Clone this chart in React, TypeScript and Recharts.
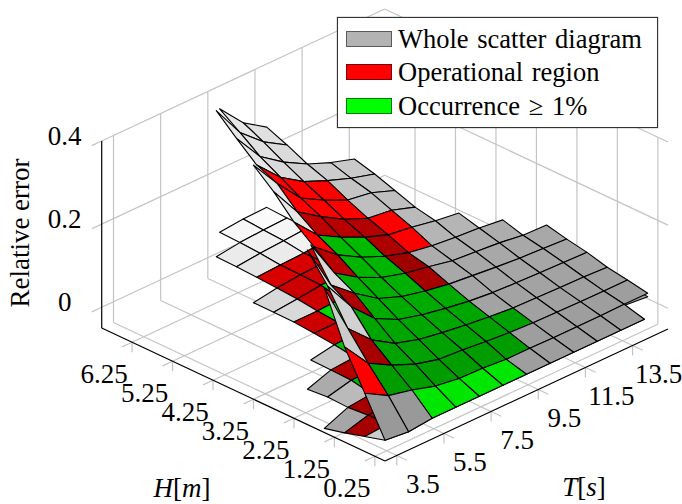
import { ScatterChart, Scatter, XAxis, YAxis, Legend } from 'recharts';

// grid of the two error surfaces: vertices at T = 3..15, H = 0..7 (step 0.5)
const tGrid = [3, 4, 5, 6, 7, 8, 9, 10, 11, 12, 13, 14, 15];
const hGrid = [0, 0.5, 1, 1.5, 2, 2.5, 3, 3.5, 4, 4.5, 5, 5.5, 6, 6.5, 7];

const _ = null;
const upperZ = [
  [0, -0.006, 0, 0, 0, 0, 0, 0, 0, 0, 0, 0, _],
  [0.09, 0.058, 0.045, 0.028, 0.02, 0.018, 0.013, 0.013, 0.012, 0.012, 0.012, 0.013, 0.013],
  [0.179, 0.113, 0.082, 0.058, 0.043, 0.039, 0.033, 0.028, 0.025, 0.024, 0.023, 0.022, 0.022],
  [0.298, 0.174, 0.12, 0.085, 0.068, 0.058, 0.05, 0.043, 0.038, 0.036, 0.034, 0.033, 0.03],
  [_, 0.253, 0.177, 0.122, 0.093, 0.078, 0.067, 0.058, 0.052, 0.049, 0.047, 0.045, 0.043],
  [_, 0.317, 0.206, 0.16, 0.121, 0.099, 0.086, 0.076, 0.07, 0.064, 0.059, 0.056, 0.052],
  [_, _, 0.28, 0.186, 0.149, 0.122, 0.106, 0.095, 0.083, 0.078, 0.073, 0.065, 0.063],
  [_, _, _, 0.226, 0.18, 0.148, 0.124, 0.106, 0.096, 0.09, 0.086, 0.079, _],
  [_, _, _, 0.263, 0.205, 0.173, 0.147, 0.126, 0.118, 0.107, 0.099, _, _],
  [_, _, _, 0.313, 0.238, 0.2, 0.167, 0.143, 0.136, 0.117, _, _, _],
  [_, _, _, 0.354, 0.284, 0.222, 0.19, 0.164, 0.155, 0.134, _, _, _],
  [_, _, _, _, 0.305, 0.249, 0.212, 0.188, 0.167, 0.151, _, _, _],
  [_, _, _, _, 0.346, 0.276, 0.236, 0.205, 0.182, 0.164, _, _, _],
  [_, _, _, _, 0.39, 0.311, 0.262, 0.228, _, _, _, _, _],
  [_, _, _, _, _, 0.345, 0.285, 0.248, _, _, _, _, _],
];
const lowerZ = [
  [0, -0.006, 0, 0, 0, 0, 0, 0, 0, 0, 0, 0, _],
  [-0.014, -0.01, -0.004, 0, 0, 0, 0, 0.002, 0.004, 0.005, 0.006, 0.01, 0.005],
  [-0.028, -0.012, -0.006, 0, 0, 0.002, 0.004, 0.006, 0.008, 0.008, 0.01, 0.01, 0.01],
  [-0.04, -0.016, -0.01, 0, 0.004, 0.006, 0.008, 0.01, 0.012, 0.012, 0.014, 0.014, 0.014],
  [_, -0.014, 0, 0.002, 0.008, 0.01, 0.012, 0.014, 0.016, 0.016, 0.018, 0.018, 0.018],
  [_, -0.018, 0.002, 0.006, 0.012, 0.014, 0.016, 0.018, 0.02, 0.02, 0.022, 0.022, 0.022],
  [_, _, 0.003, 0.013, 0.015, 0.018, 0.02, 0.022, 0.024, 0.025, 0.026, 0.026, 0.026],
  [_, _, _, 0.018, 0.018, 0.022, 0.024, 0.026, 0.028, 0.03, 0.03, 0.03, _],
  [_, _, _, 0.022, 0.022, 0.025, 0.03, 0.032, 0.034, 0.036, 0.036, _, _],
  [_, _, _, 0.023, 0.028, 0.035, 0.036, 0.038, 0.04, 0.04, _, _, _],
  [_, _, _, 0.023, 0.032, 0.037, 0.04, 0.042, 0.044, 0.045, _, _, _],
  [_, _, _, _, 0.035, 0.038, 0.04, 0.045, 0.047, 0.048, _, _, _],
  [_, _, _, _, 0.037, 0.043, 0.047, 0.051, 0.05, 0.05, _, _, _],
  [_, _, _, _, 0.0385, 0.046, 0.05, 0.052, _, _, _, _, _],
  [_, _, _, _, _, 0.048, 0.0535, 0.055, _, _, _, _, _],
];

// one token per cell (T = 3..14): g gray, r red, n green + brightness in percent
const upperCells = [
  'g60 g60 n90 n90 n90 n90 g62 g62 g62 g62 g62 -',
  'r100 n61 n61 n61 n61 n61 n61 g62 g62 g62 g62 g62',
  'g80 r65 n63 n63 n63 n63 n63 n63 g63 g63 g63 g63',
  '- g82 n65 n65 n65 n65 n65 g64 g64 g64 g64 g64',
  '- g85 r68 n67 n67 n67 n67 g65 g65 g65 g65 g65',
  '- - g85 n69 n69 n69 r65 g66 g66 g66 g66 g66',
  '- - - r72 n71 n71 r62 g68 g68 g68 g68 -',
  '- - - r100 n73 n73 r68 r100 g71 g71 - -',
  '- - - g90 r75 r72 r70 r100 g73 - - -',
  '- - - g90 r100 r100 r100 g75 g75 - - -',
  '- - - - r100 r100 r100 g77 g77 - - -',
  '- - - - g90 g85 g82 g80 g79 - - -',
  '- - - - g90 g88 g86 - - - - -',
  '- - - - - g90 g88 - - - - -',
];
const lowerCells = [
  'g80 g70 n90 n90 n90 n90 g62 g62 g62 g62 g62 -',
  'r65 r65 n60 n60 n60 n60 n60 g62 g62 g62 g62 g62',
  'g65 r65 n65 n62 n62 n62 n62 n62 g63 g63 g63 g63',
  '- g73 n70 n62 n62 n62 n62 g64 g64 g64 g64 g64',
  '- g67 r70 n64 n64 n64 n64 g65 g65 g65 g65 g65',
  '- - g78 n75 n65 n65 r65 g67 g67 g67 g67 g67',
  '- - - r80 n80 n68 r62 g69 g69 g69 g69 -',
  '- - - r80 n85 n70 r68 r100 g71 g71 - -',
  '- - - g85 r80 n85 r70 r100 g72 - - -',
  '- - - g85 r80 r80 r80 g74 g74 - - -',
  '- - - - r85 r85 r85 g76 g76 - - -',
  '- - - - g90 g92 g95 g95 g95 - - -',
  '- - - - g92 g94 g96 - - - - -',
  '- - - - - g97 g98 - - - - -',
];

const tTicks = [3.5, 5.5, 7.5, 9.5, 11.5, 13.5];
const hTicks = [0.25, 1.25, 2.25, 3.25, 4.25, 5.25, 6.25];
const zTicks = [0, 0.2, 0.4];
const legendNames = ['Whole scatter diagram', 'Operational region', 'Occurrence \u2265 1%'];
const legendFills = ['#b3b3b3', '#ff0000', '#00ff00'];
const legendEdges = ['#5a5a5a', '#7a0000', '#007a00'];

const T_MIN = 3, T_MAX = 15, H_MIN = 0, H_MAX = 7, Z_MIN = -0.05, Z_MAX = 0.4;
const FONT = '"Liberation Serif", serif';

// 3d view of the axis box, the hidden chart axes then place the result
const project = (T: number, H: number, z: number) => ({
  u: (T - T_MIN) * 23.58 - H * 40.47,
  v: (T - T_MIN) * 11 + H * 19 + (z - Z_MIN) * 415.6,
});

const shadeFill = (token: string) => {
  const f = Number(token.slice(1)) / 100;
  const c = Math.round(255 * f);
  if (token[0] === 'r') return `rgb(${c},0,0)`;
  if (token[0] === 'n') return `rgb(0,${c},0)`;
  return `rgb(${c},${c},${c})`;
};

function buildSurface(zs: (number | null)[][], cells: string[]) {
  const points: { u: number; v: number }[] = [];
  const fills: string[] = [];
  // back to front, the last cell drawn is the one nearest to the viewer
  for (let r = cells.length - 1; r >= 0; r--) {
    const tokens = cells[r].split(' ');
    for (let c = tokens.length - 1; c >= 0; c--) {
      if (tokens[c] === '-') continue;
      const corners = [
        [c, r],
        [c + 1, r],
        [c + 1, r + 1],
        [c, r + 1],
      ];
      corners.forEach(([i, j]) => points.push(project(tGrid[i], hGrid[j], zs[j][i] as number)));
      fills.push(shadeFill(tokens[c]));
    }
  }
  return { points, fills };
}

const lower = buildSurface(lowerZ, lowerCells);
const upper = buildSurface(upperZ, upperCells);

const seg = (a: number[], b: number[]) => [project(a[0], a[1], a[2]), project(b[0], b[1], b[2])];

const gridSegments = [
  ...tTicks.flatMap((t) => [
    ...seg([t, H_MIN, Z_MIN], [t, H_MAX, Z_MIN]),
    ...seg([t, H_MAX, Z_MIN], [t, H_MAX, Z_MAX]),
    ...seg([t, H_MIN, Z_MIN], [t, -0.25, Z_MIN]),
    ...seg([t, H_MIN, Z_MIN], [t, H_MIN, Z_MIN - 0.024]),
  ]),
  ...hTicks.flatMap((h) => [
    ...seg([T_MIN, h, Z_MIN], [T_MAX, h, Z_MIN]),
    ...seg([T_MAX, h, Z_MIN], [T_MAX, h, Z_MAX]),
    ...seg([T_MIN, h, Z_MIN], [T_MIN - 0.42, h, Z_MIN]),
    ...seg([T_MIN, h, Z_MIN], [T_MIN, h, Z_MIN - 0.024]),
  ]),
  ...zTicks.flatMap((z) => [
    ...seg([T_MIN, H_MAX, z], [T_MAX, H_MAX, z]),
    ...seg([T_MAX, H_MAX, z], [T_MAX, H_MIN, z]),
    ...seg([T_MIN, H_MAX, z], [T_MIN - 0.42, H_MAX, z]),
  ]),
];

const axisSegments = [
  ...seg([T_MIN, H_MAX, Z_MAX], [T_MIN, H_MAX, Z_MIN]),
  ...seg([T_MIN, H_MAX, Z_MIN], [T_MIN, H_MIN, Z_MIN]),
  ...seg([T_MIN, H_MIN, Z_MIN], [T_MAX, H_MIN, Z_MIN]),
];

const tLabels = tTicks.map((t) => ({ ...project(t, H_MIN, Z_MIN), text: String(t), dx: 26, dy: 28 }));
const hLabels = hTicks.map((h) => ({ ...project(T_MIN, h, Z_MIN), text: String(h), dx: -28, dy: 32 }));
const zLabels = zTicks.map((z) => ({ ...project(T_MIN, H_MAX, z), text: String(z), dx: -37, dy: -5 }));

const NoDot = () => null;

const drawSegments = (stroke: string, width: number) => (props: any) => {
  const pts = props.points;
  const lines = [];
  for (let i = 0; i + 1 < pts.length; i += 2) {
    lines.push(
      <line key={i} x1={pts[i].x} y1={pts[i].y} x2={pts[i + 1].x} y2={pts[i + 1].y} stroke={stroke} strokeWidth={width} />
    );
  }
  return <g>{lines}</g>;
};

const drawQuads = (fills: string[]) => (props: any) => {
  const pts = props.points;
  return (
    <g>
      {fills.map((fill, i) => (
        <polygon
          key={i}
          points={pts.slice(i * 4, i * 4 + 4).map((p: any) => `${p.x},${p.y}`).join(' ')}
          fill={fill}
          stroke="#000"
          strokeWidth={1.1}
          strokeLinejoin="round"
        />
      ))}
    </g>
  );
};

const TickText = (props: any) => {
  const { cx, cy, payload } = props;
  return (
    <text x={cx + payload.dx} y={cy + payload.dy} textAnchor="middle" dominantBaseline="central" fontFamily={FONT} fontSize={27} fill="#000">
      {payload.text}
    </text>
  );
};

const LegendBox = () => (
  <div style={{ background: '#fff', border: '1px solid #333', width: 319, height: 109, position: 'relative', boxShadow: '0 0 1px #555' }}>
    {legendNames.map((name, i) => (
      <div key={name} style={{ position: 'absolute', left: 8, top: 7 + i * 33.3, height: 28, display: 'flex', alignItems: 'center' }}>
        <span style={{ display: 'inline-block', width: 44, height: 14, background: legendFills[i], border: `1px solid ${legendEdges[i]}`, marginRight: 6 }} />
        <span style={{ fontFamily: FONT, fontSize: 26.5, color: '#000', wordSpacing: 2, whiteSpace: 'nowrap', lineHeight: '28px' }}>{name}</span>
      </div>
    ))}
  </div>
);

export default function App() {
  return (
    <div style={{ position: 'absolute', left: 0, top: 0, width: 682, height: 504 }}>
      <ScatterChart width={682} height={504} margin={{ top: 0, right: 0, bottom: 0, left: 0 }}>
        <XAxis type="number" dataKey="u" domain={[-385, 297]} allowDataOverflow hide />
        <YAxis type="number" dataKey="v" domain={[-43, 461]} allowDataOverflow hide />
        <Legend
          layout="vertical"
          align="center"
          verticalAlign="middle"
          content={<LegendBox />}
          wrapperStyle={{ left: 337, top: 17, width: 321, height: 111, margin: 0, transform: 'none' }}
        />
        <Scatter data={gridSegments} shape={NoDot} line={drawSegments('#c4c4c4', 1.2)} isAnimationActive={false} />
        <Scatter data={axisSegments} shape={NoDot} line={drawSegments('#000', 1.2)} isAnimationActive={false} />
        <Scatter data={lower.points} shape={NoDot} line={drawQuads(lower.fills)} isAnimationActive={false} />
        <Scatter data={upper.points} shape={NoDot} line={drawQuads(upper.fills)} isAnimationActive={false} />
        <Scatter data={tLabels} shape={TickText} isAnimationActive={false} />
        <Scatter data={hLabels} shape={TickText} isAnimationActive={false} />
        <Scatter data={zLabels} shape={TickText} isAnimationActive={false} />
        <text x={20} y={233} transform="rotate(-90 20 233)" textAnchor="middle" dominantBaseline="central" fontFamily={FONT} fontSize={27} fill="#000">
          Relative error
        </text>
        <text x={584} y={487} textAnchor="middle" dominantBaseline="central" fontFamily={FONT} fontSize={27} fill="#000">
          <tspan fontStyle="italic">T</tspan>[<tspan fontStyle="italic">s</tspan>]
        </text>
        <text x={182} y={488} textAnchor="middle" dominantBaseline="central" fontFamily={FONT} fontSize={27} fill="#000">
          <tspan fontStyle="italic">H</tspan>[<tspan fontStyle="italic">m</tspan>]
        </text>
      </ScatterChart>
    </div>
  );
}
